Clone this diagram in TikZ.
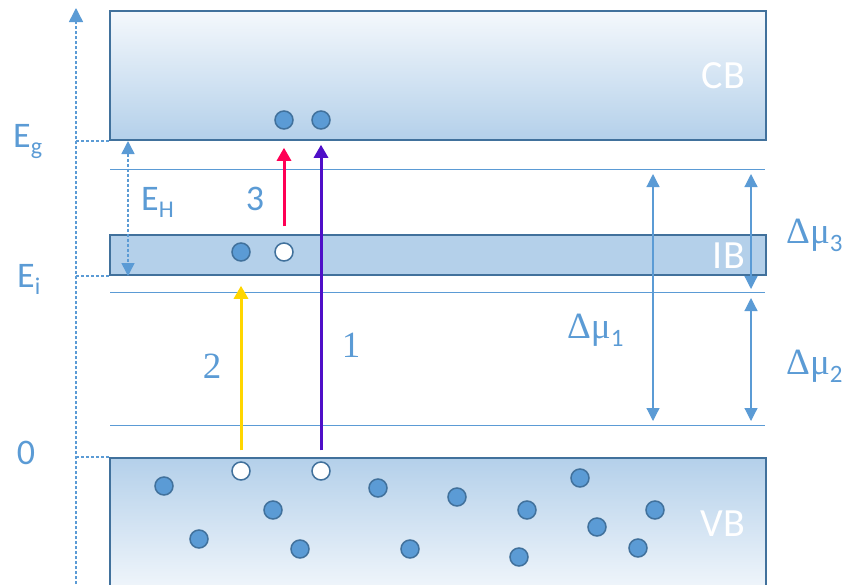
\documentclass[tikz,border=0pt]{standalone}
\usepackage{fontspec}
\setmainfont{Carlito}
\newfontfamily\serifnum{Liberation Serif}
\usetikzlibrary{arrows.meta}
\definecolor{levelblue}{HTML}{5B9BD5}
\definecolor{edgeblue}{HTML}{41719C}
\definecolor{bandblue}{HTML}{B4D0EA}
\definecolor{bandlight}{HTML}{F4F8FC}
\definecolor{excyellow}{HTML}{FFD600}
\definecolor{excred}{HTML}{FF0055}
\definecolor{excpurple}{HTML}{4F0FC8}
\newcommand{\esub}[1]{\raisebox{-7pt}{\fontsize{24}{24}\selectfont #1}}
\newcommand{\musub}[1]{\raisebox{-8pt}{\rmfamily\fontsize{25}{25}\selectfont #1}}

\begin{document}
\begin{tikzpicture}[x=1pt, y=-1pt,
  band/.style={rectangle, draw=edgeblue, line width=2pt, minimum width=656pt, inner sep=0pt, anchor=north west},
  elec/.style={circle, draw=edgeblue, line width=1.5pt, fill=levelblue, minimum size=18pt, inner sep=0pt},
  hole/.style={elec, fill=white},
  lbl/.style={text=levelblue, font=\fontsize{36}{40}\selectfont, inner sep=0pt},
  numlbl/.style={text=levelblue, font=\serifnum\fontsize{37}{40}\selectfont, inner sep=0pt},
  bandlbl/.style={text=white, font=\fontsize{40}{44}\selectfont, inner sep=0pt, anchor=base east},
  eline/.style={levelblue, line width=1pt},
  guide/.style={levelblue, line width=1.5pt, dash pattern=on 3pt off 2pt},
  dimarrow/.style={levelblue, line width=1.2pt, {Triangle[width=13pt,length=13pt]}-{Triangle[width=13pt,length=13pt]}},
  excite/.style={line width=3pt, -{Triangle[width=14pt,length=13pt]}}]
  \useasboundingbox (0,0) rectangle (846,584);

  % bands
  \node[band, minimum height=129pt, top color=bandlight, bottom color=bandblue] (cb) at (109,10) {};
  \node[band, minimum height=40pt, fill=bandblue] (ib) at (109,234) {};
  \node[band, minimum height=140pt, top color=bandblue, bottom color=bandlight] (vb) at (109,457) {};
  \node[bandlbl] (cblbl) at (745,88) {CB};
  \node[bandlbl] (iblbl) at (745,268) {IB};
  \node[bandlbl] (vblbl) at (745,536) {VB};

  % quasi-Fermi levels
  \foreach \y/\n in {169/top,292/mid,425/bot} {
    \coordinate (\n w) at (110,\y);
    \coordinate (\n e) at (765,\y);
    \draw[eline] (\n w) -- (\n e);
  }

  % energy axis
  \coordinate (axbot) at (76,584);
  \coordinate (axtop) at (76,8);
  \draw[guide, -{Triangle[width=14pt,length=14pt]}] (axbot) -- (axtop);
  \draw[guide] (axtop |- cb.south west) -- (cb.south west);
  \draw[guide] (axtop |- ib.south west) -- (ib.south west);
  \draw[guide] (axtop |- vb.north west) -- (vb.north west);
  \draw[guide, {Triangle[width=13pt,length=13pt]}-{Triangle[width=13pt,length=13pt]}]
    ([xshift=19pt]cb.south west) -- ([xshift=19pt]ib.south west);

  \node[lbl, anchor=base west] (eg) at (13,147) {E\esub{g}};
  \node[lbl, anchor=base west] (ei) at (17,287) {E\esub{i}};
  \node[lbl, anchor=base] (zero) at (26,464) {0};
  \node[lbl, anchor=base west] (eh) at (141,210) {E\esub{H}};

  % splittings
  \coordinate (mu1a) at (653,174);
  \coordinate (mu1b) at (653,421);
  \coordinate (mu3a) at (751,174);
  \coordinate (mu3b) at (751,289);
  \coordinate (mu2a) at (751,298);
  \coordinate (mu2b) at (751,421);
  \draw[dimarrow] (mu1a) -- (mu1b);
  \draw[dimarrow] (mu3a) -- (mu3b);
  \draw[dimarrow] (mu2a) -- (mu2b);
  \node[numlbl, anchor=base west] (mu1) at (567,338) {Δμ\musub{1}};
  \node[numlbl, anchor=base west] (mu3) at (786,243) {Δμ\musub{3}};
  \node[numlbl, anchor=base west] (mu2) at (786,374) {Δμ\musub{2}};

  % carriers
  \node[elec] (ce1) at (284,120) {};
  \node[elec] (ce2) at (321,120) {};
  \node[elec] (ie1) at (241,252) {};
  \node[hole] (ih1) at (284,252) {};
  \node[hole] (vh1) at (241,471) {};
  \node[hole] (vh2) at (321,471) {};
  \node[elec] (v1) at (164,486) {};
  \node[elec] (v2) at (199,539) {};
  \node[elec] (v3) at (273,510) {};
  \node[elec] (v4) at (300,549) {};
  \node[elec] (v5) at (378,488) {};
  \node[elec] (v6) at (410,549) {};
  \node[elec] (v7) at (457,497) {};
  \node[elec] (v8) at (519,557) {};
  \node[elec] (v9) at (527,510) {};
  \node[elec] (v10) at (580,478) {};
  \node[elec] (v11) at (597,527) {};
  \node[elec] (v12) at (638,548) {};
  \node[elec] (v13) at (655,510) {};

  % transitions
  \draw[excite, excpurple, shorten <=11pt, shorten >=15pt] (vh2) -- (ce2);
  \draw[excite, excyellow, shorten <=11pt, shorten >=24pt] (vh1) -- (ie1);
  \draw[excite, excred, shorten <=16pt, shorten >=18pt] (ih1) -- (ce1);
  \node[numlbl, anchor=base] (t1) at (351,357) {1};
  \node[numlbl, anchor=base] (t2) at (212,378) {2};
  \node[lbl, anchor=base] (t3) at (255,210) {3};
\end{tikzpicture}
\end{document}
